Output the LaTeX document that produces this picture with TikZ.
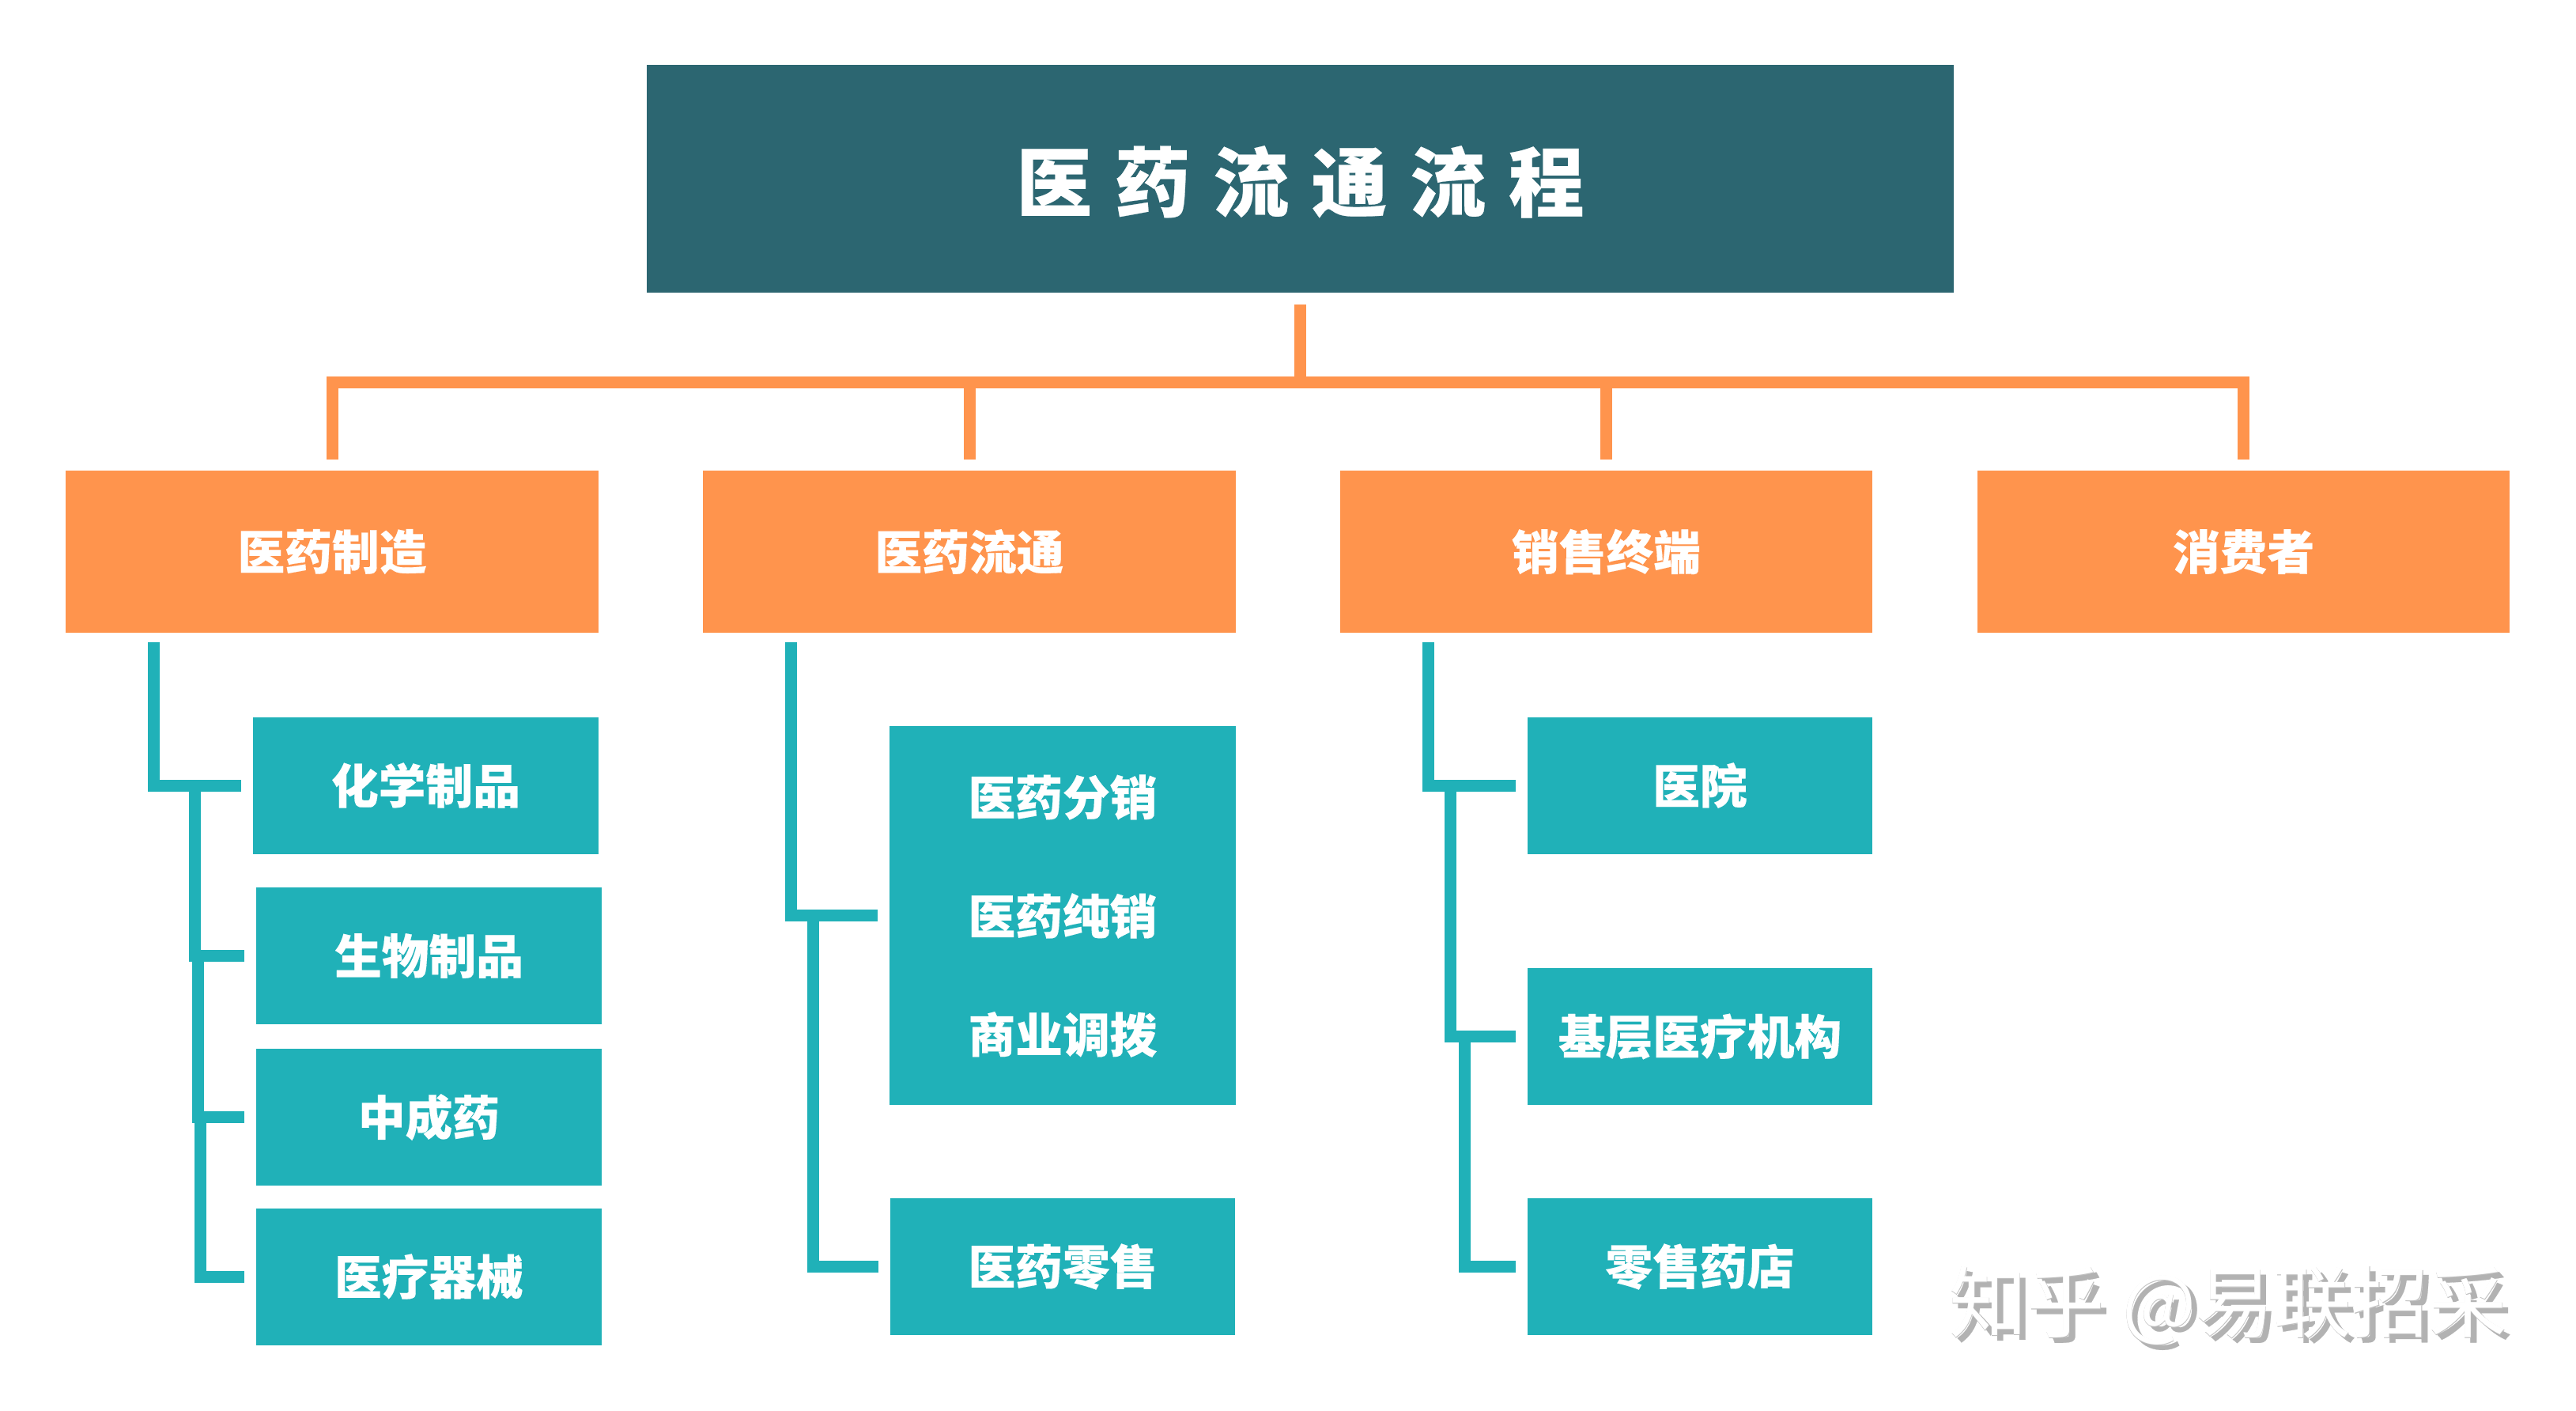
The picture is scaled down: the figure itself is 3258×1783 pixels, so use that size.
\documentclass[tikz,border=0pt]{standalone}
\usepackage{fontspec}
\setmainfont{Noto Sans CJK SC}[BoldFont={Noto Sans CJK SC Black},BoldFeatures={FakeBold=0.25}]
\newfontfamily\wmfont{Noto Sans CJK SC}
\newfontfamily\wmbold{Noto Sans CJK SC}[FakeBold=0.2]
\definecolor{titlec}{HTML}{2C6671}
\definecolor{orangec}{HTML}{FF944D}
\definecolor{tealc}{HTML}{20B1B8}
\tikzset{
  x=0.02cm,y=-0.02cm,
  boxfont/.style={text=white,font=\bfseries\fontsize{34}{34}\selectfont},
  boxbase/.style={anchor=center,inner sep=0,outer sep=0,boxfont},
  titlebox/.style={boxbase,fill=titlec,minimum width=33.06cm,minimum height=5.76cm,font=\bfseries\fontsize{54.5}{54.5}\selectfont},
  headbox/.style={boxbase,fill=orangec,minimum width=13.48cm,minimum height=4.1cm},
  subbox/.style={boxbase,fill=tealc,minimum width=8.74cm,minimum height=3.46cm},
  bigbox/.style={boxbase,fill=tealc,minimum width=8.76cm,minimum height=9.58cm},
  bigline/.style={boxfont,inner sep=0},
  olink/.style={draw=orangec,line width=0.3cm},
  tlink/.style={draw=tealc,line width=0.3cm},
  wmtext/.style={inner sep=0,anchor=center},
}
\begin{document}
\begin{tikzpicture}
\useasboundingbox[fill=white] (0,0) rectangle (3258,1783);
\node[titlebox] (t) at (1644.5,226) {\raisebox{0pt}[51pt][5pt]{医\hspace{0.3em}药\hspace{0.3em}流\hspace{0.3em}通\hspace{0.3em}流\hspace{0.3em}程}};
\node[headbox] (h1) at (420,697.5) {医药制造};
\node[headbox] (h2) at (1226,697.5) {医药流通};
\node[headbox] (h3) at (2031.5,697.5) {销售终端};
\node[headbox] (h4) at (2837.5,697.5) {消费者};
\node[subbox] (a1) at (538.5,993) {化学制品};
\node[subbox] (a2) at (542.5,1208.5) {生物制品};
\node[subbox] (a3) at (542.5,1412.5) {中成药};
\node[subbox] (a4) at (542.5,1614) {医疗器械};
\node[bigbox] (b1) at (1344,1157.5) {};
\node[bigline] (b1a) at (1344,1008) {医药分销};
\node[bigline] (b1b) at (1344,1158) {医药纯销};
\node[bigline] (b1c) at (1344,1308) {商业调拨};
\node[subbox] (b2) at (1344,1601.5) {医药零售};
\node[subbox] (c1) at (2150,993) {医院};
\node[subbox] (c2) at (2150,1310.5) {基层医疗机构};
\node[subbox] (c3) at (2150,1601.5) {零售药店};
% orange connectors
\coordinate (bar) at (0,483);
\draw[olink] ([yshift=-.3cm]t.south) -- (t.south |- bar);
\draw[olink] ([yshift=.28cm]h1.north) |- (h4.north |- bar) -- ([yshift=.28cm]h4.north);
\draw[olink] ([yshift=.28cm]h2.north) -- (h2.north |- bar);
\draw[olink] ([yshift=.28cm]h3.north) -- (h3.north |- bar);
% teal connectors
\coordinate (ja1) at (246,0);
\coordinate (ja2) at (250,0);
\coordinate (ja3) at (253,0);
\coordinate (jb1) at (1028,0);
\coordinate (jc1) at (1834,0);
\coordinate (jc2) at (1852,0);
\draw[tlink] ([xshift=-4.51cm,yshift=-.24cm]h1.south) |- ([xshift=-.3cm]a1.west);
\draw[tlink] (ja1 |- a1.west) |- ([xshift=-.3cm]a2.west);
\draw[tlink] (ja2 |- a2.west) |- ([xshift=-.3cm]a3.west);
\draw[tlink] (ja3 |- a3.west) |- ([xshift=-.3cm]a4.west);
\draw[tlink] ([xshift=-4.51cm,yshift=-.24cm]h2.south) |- ([xshift=-.3cm]b1.west);
\draw[tlink] (jb1 |- b1.west) |- ([xshift=-.3cm]b2.west);
\draw[tlink] ([xshift=-4.51cm,yshift=-.24cm]h3.south) |- ([xshift=-.3cm]c1.west);
\draw[tlink] (jc1 |- c1.west) |- ([xshift=-.3cm]c2.west);
\draw[tlink] (jc2 |- c2.west) |- ([xshift=-.3cm]c3.west);
% watermark
\node[wmtext,text=black!30,font=\wmbold\fontsize{56}{56}\selectfont] (w0) at (2825,1657) {知乎 @易联招采};
\node[wmtext,text=black!25,font=\wmbold\fontsize{56}{56}\selectfont] (w1) at (2818,1651) {知乎 @易联招采};
\node[wmtext,text=white,font=\wmfont\fontsize{56}{56}\selectfont] (w2) at (2818,1651) {知乎 @易联招采};
\end{tikzpicture}
\end{document}
